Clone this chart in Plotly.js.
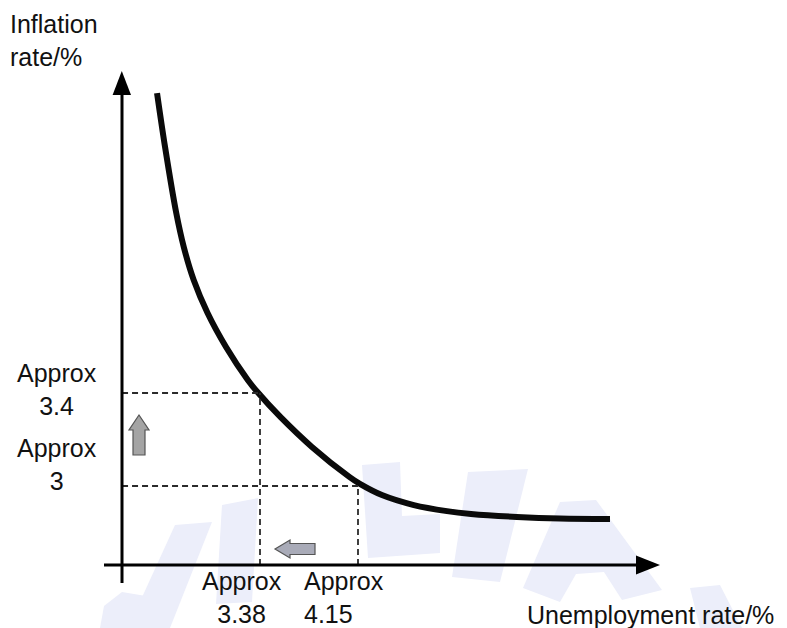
<!DOCTYPE html>
<html>
<head>
<meta charset="utf-8">
<script src="https://cdn.plot.ly/plotly-3.0.1.min.js"></script>
<style>
  html, body { margin: 0; padding: 0; background: #ffffff; }
  #chart { width: 787px; height: 628px; }
</style>
</head>
<body>
<div id="chart"></div>
<script>
// ---- Data ----
var curveUnemployment = [2.571, 2.634, 2.722, 2.781, 2.859, 2.968, 3.113, 3.284, 3.360, 3.540, 3.788, 4.082, 4.165, 4.338, 4.589, 4.849, 5.038, 5.399, 5.737, 6.130];
var curveInflation    = [4.690, 4.458, 4.174, 4.028, 3.886, 3.744, 3.598, 3.456, 3.404, 3.297, 3.168, 3.039, 3.009, 2.961, 2.918, 2.892, 2.880, 2.867, 2.860, 2.858];

var markUnemployment = [3.38, 4.15];   // points
var markInflation    = [3.4, 3.0];

var xTickLabels = ['Approx<br>3.38', 'Approx<br>4.15'];
var yTickLabels = ['Approx<br>3.4', 'Approx<br>3'];

var yAxisTitle = 'Inflation<br>rate/%';
var xAxisTitle = 'Unemployment rate/%';

// ---- Layout constants ----
var W = 787, H = 628;
var xRange = [1.3371, 7.5208];
var yRange = [2.3892, 5.0903];
var originU = 2.296, originInf = 2.660;   // where the drawn axes cross
var FONT = 'Liberation Sans, Arial, Helvetica, sans-serif';
var TXT = '#111111';

function PX(px) { return px / W; }
function PY(py) { return 1 - py / H; }
function poly(pts) {
  return 'M ' + pts.map(function (p) { return PX(p[0]).toFixed(5) + ',' + PY(p[1]).toFixed(5); }).join(' L ') + ' Z';
}

var shapes = [];

// faint watermark
var wm = [
  [[100,628],[104,606],[122,592],[146,596],[142,628]],
  [[175,525],[212,522],[170,628],[128,628]],
  [[222,505],[258,498],[252,602],[216,604]],
  [[362,465],[400,462],[402,516],[440,514],[440,553],[368,558]],
  [[468,472],[528,469],[500,582],[452,577]],
  [[560,502],[596,500],[662,590],[622,600],[604,572],[576,574],[560,602],[523,588]],
  [[690,588],[720,585],[742,628],[700,628]]
];
wm.forEach(function (pts) {
  shapes.push({type: 'path', xref: 'paper', yref: 'paper', path: poly(pts),
    fillcolor: '#eceefa', line: {width: 0}, layer: 'below'});
});

// dashed guide lines built from the marked points
for (var i = 0; i < markUnemployment.length; i++) {
  shapes.push({type: 'line', xref: 'x', yref: 'y',
    x0: originU, x1: markUnemployment[i], y0: markInflation[i], y1: markInflation[i],
    line: {color: '#2b2b2b', width: 1.8, dash: '6px,4px'}});
  shapes.push({type: 'line', xref: 'x', yref: 'y',
    x0: markUnemployment[i], x1: markUnemployment[i], y0: originInf, y1: markInflation[i],
    line: {color: '#2b2b2b', width: 1.8, dash: '6px,4px'}});
}

// axes with arrowheads
shapes.push({type: 'line', xref: 'paper', yref: 'paper', x0: PX(122), x1: PX(122), y0: PY(583), y1: PY(92),
  line: {color: '#000', width: 3}});
shapes.push({type: 'path', xref: 'paper', yref: 'paper', path: poly([[121.8,71],[131,95],[112.6,95]]),
  fillcolor: '#000', line: {width: 0}});
shapes.push({type: 'line', xref: 'paper', yref: 'paper', x0: PX(104), x1: PX(640), y0: PY(565), y1: PY(565),
  line: {color: '#000', width: 3}});
shapes.push({type: 'path', xref: 'paper', yref: 'paper', path: poly([[660,565],[636,555.5],[636,574.5]]),
  fillcolor: '#000', line: {width: 0}});

// grey block arrows
shapes.push({type: 'path', xref: 'paper', yref: 'paper',
  path: poly([[139,415],[149,430],[145,430],[145,455],[133,455],[133,430],[129,430]]),
  fillcolor: '#a4a4a4', line: {color: '#555', width: 1.2}});
shapes.push({type: 'path', xref: 'paper', yref: 'paper',
  path: poly([[275,549],[290,540],[290,543.5],[315,543.5],[315,554.5],[290,554.5],[290,558]]),
  fillcolor: '#a9abb8', line: {color: '#555', width: 1.2}});

var annotations = [];
var tf = {family: FONT, size: 25, color: TXT};

// axis titles
annotations.push({xref: 'paper', yref: 'paper', x: PX(8), y: PY(8), xanchor: 'left', yanchor: 'top',
  align: 'left', showarrow: false, text: yAxisTitle, font: tf});
annotations.push({xref: 'paper', yref: 'paper', x: PX(525), y: PY(615), xanchor: 'left', yanchor: 'middle',
  align: 'left', showarrow: false, text: xAxisTitle, font: tf});

// y labels
var yShift = [3, 21];
for (var j = 0; j < yTickLabels.length; j++) {
  annotations.push({xref: 'paper', yref: 'y', x: PX(57), y: markInflation[j], yshift: yShift[j],
    xanchor: 'center', yanchor: 'middle', align: 'center', showarrow: false, text: yTickLabels[j], font: tf});
}
// x labels
var xOpts = [
  {xshift: -18, xanchor: 'center', align: 'center'},
  {xshift: -56, xanchor: 'left', align: 'left'}
];
for (var k = 0; k < xTickLabels.length; k++) {
  annotations.push({xref: 'x', yref: 'paper', x: markUnemployment[k], y: PY(597.5),
    xshift: xOpts[k].xshift, xanchor: xOpts[k].xanchor, yanchor: 'middle', align: xOpts[k].align,
    showarrow: false, text: xTickLabels[k], font: tf});
}

var traces = [{
  type: 'scatter', mode: 'lines',
  x: curveUnemployment, y: curveInflation,
  line: {color: '#0a0a0a', width: 6, shape: 'spline', smoothing: 1},
  hoverinfo: 'skip'
}];

var layout = {
  width: W, height: H,
  margin: {l: 0, r: 0, t: 0, b: 0, pad: 0},
  paper_bgcolor: '#ffffff', plot_bgcolor: 'rgba(0,0,0,0)',
  showlegend: false,
  xaxis: {range: xRange, visible: false, fixedrange: true},
  yaxis: {range: yRange, visible: false, fixedrange: true},
  shapes: shapes,
  annotations: annotations
};

Plotly.newPlot('chart', traces, layout, {staticPlot: true, displayModeBar: false});
</script>
</body>
</html>
